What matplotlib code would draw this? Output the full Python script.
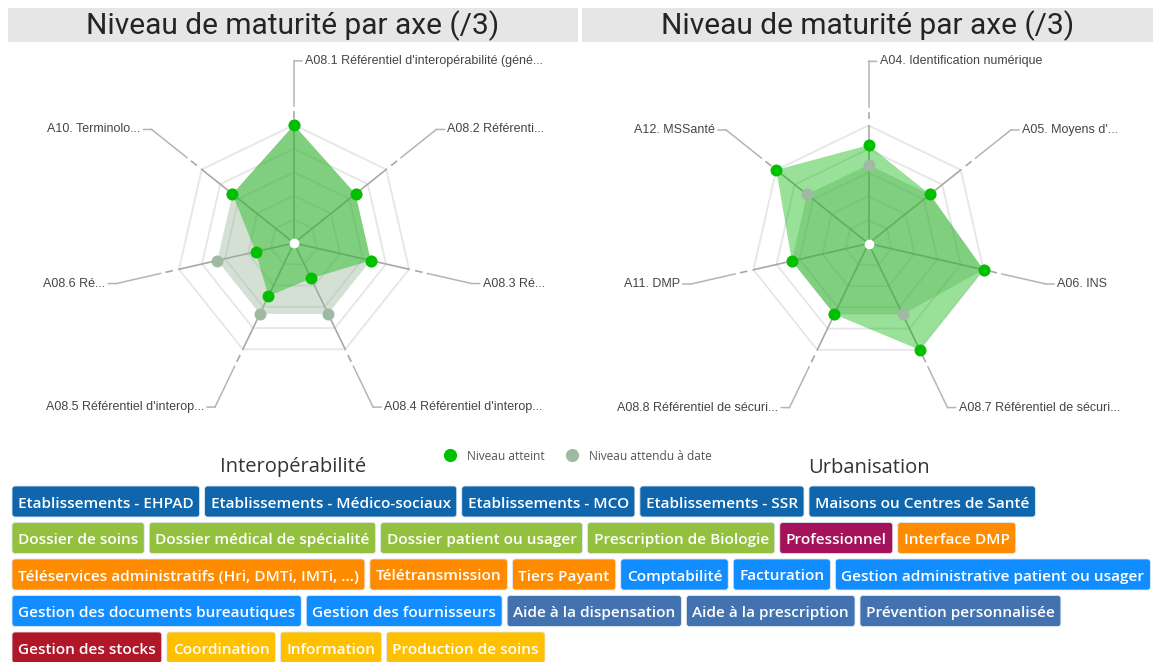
import numpy as np
import matplotlib
matplotlib.use("Agg")
import matplotlib.pyplot as plt
from matplotlib.patches import Rectangle, FancyBboxPatch
from matplotlib.lines import Line2D

W, H, DPI = 1153, 662, 100

# ---- data -------------------------------------------------------------
chart_title = "Niveau de maturité par axe (/3)"
max_level = 3
grid_levels = [0.6, 1.2, 1.8, 2.4, 3.0]

interop_axes = [
    "A08.1 Référentiel d'interopérabilité (géné...",
    "A08.2 Référenti...",
    "A08.3 Ré...",
    "A08.4 Référentiel d'interop...",
    "A08.5 Référentiel d'interop...",
    "A08.6 Ré...",
    "A10. Terminolo...",
]
interop_atteint = [3, 2, 2, 1, 1.5, 1, 2]
interop_attendu = [3, 2, 2, 2, 2, 2, 2]

urba_axes = [
    "A04. Identification numérique",
    "A05. Moyens d'...",
    "A06. INS",
    "A08.7 Référentiel de sécuri...",
    "A08.8 Référentiel de sécuri...",
    "A11. DMP",
    "A12. MSSanté",
]
urba_atteint = [2.5, 2, 3, 3, 2, 2, 3]
urba_attendu = [2, 2, 3, 2, 2, 2, 2]

legend_labels = ["Niveau atteint", "Niveau attendu à date"]
section_titles = ["Interopérabilité", "Urbanisation"]

tag_rows = [
    ["Etablissements - EHPAD", "Etablissements - Médico-sociaux",
     "Etablissements - MCO", "Etablissements - SSR", "Maisons ou Centres de Santé"],
    ["Dossier de soins", "Dossier médical de spécialité", "Dossier patient ou usager",
     "Prescription de Biologie", "Professionnel", "Interface DMP"],
    ["Téléservices administratifs (Hri, DMTi, IMTi, ...)", "Télétransmission",
     "Tiers Payant", "Comptabilité", "Facturation",
     "Gestion administrative patient ou usager"],
    ["Gestion des documents bureautiques", "Gestion des fournisseurs",
     "Aide à la dispensation", "Aide à la prescription", "Prévention personnalisée"],
    ["Gestion des stocks", "Coordination", "Information", "Production de soins"],
]
tag_groups = [
    ["etab", "etab", "etab", "etab", "etab"],
    ["dossier", "dossier", "dossier", "dossier", "prof", "teleserv"],
    ["teleserv", "teleserv", "teleserv", "gestion", "gestion", "gestion"],
    ["gestion", "gestion", "aide", "aide", "aide"],
    ["stock", "soins", "soins", "soins"],
]
group_colors = {
    "etab": "#0f66ad", "dossier": "#93c13f", "prof": "#a3125a",
    "teleserv": "#ff8c00", "gestion": "#118dff", "aide": "#4372b0",
    "stock": "#b0182a", "soins": "#ffc000",
}

# ---- style --------------------------------------------------------------
c_atteint_dot = "#00c000"
c_atteint_fill = "#00b600"
c_attendu_dot = "#a0b9a2"
c_attendu_fill = "#96b298"
c_ring = "#e6e6e6"
c_axis = "#a8a8a8"
label_font = "Liberation Sans"
ui_font = "Open Sans"

fig = plt.figure(figsize=(W / DPI, H / DPI), dpi=DPI)
fig.patch.set_facecolor("white")

# pixel-space overlay for headers, captions and tags
ov = fig.add_axes([0, 0, 1, 1], zorder=0)
ov.set_xlim(0, W)
ov.set_ylim(H, 0)
ov.set_axis_off()

for x0, x1, cx in [(8, 578, 293), (582, 1153, 868)]:
    ov.add_patch(Rectangle((x0, 8), x1 - x0, 34, color="#e6e6e6", lw=0))
    ov.text(cx, 26, chart_title, ha="center", va="center", fontsize=21.5,
            family="Roboto", color="#252423")


def radar(cx, cy, labels, atteint, attendu):
    rpx = 118
    ax = fig.add_axes([(cx - rpx) / W, 1 - (cy + rpx) / H, 2 * rpx / W, 2 * rpx / H],
                      projection="polar", zorder=2)
    ax.set_theta_zero_location("N")
    ax.set_theta_direction(-1)
    ax.set_ylim(0, max_level)
    ax.set_axis_off()
    n = len(labels)
    theta = np.arange(n) * 2 * np.pi / n
    closed = np.append(theta, theta[0])

    for lvl in grid_levels:
        ax.plot(closed, [lvl] * (n + 1), color=c_ring, lw=1.3, zorder=1, clip_on=False)
    for t in theta:
        ax.plot([t, t], [0, max_level], color=c_axis, lw=1.2, zorder=1.5, clip_on=False)
        ax.plot([t, t], [3.18, 3.33], color=c_axis, lw=1.2, zorder=1.5, clip_on=False)
        ax.plot([t, t], [3.48, 4.63], color="#b4b4b4", lw=1.1, zorder=1.5, clip_on=False)

    ax.fill(closed, np.append(attendu, attendu[0]), color=c_attendu_fill,
            alpha=0.4, lw=0, zorder=2)
    ax.fill(closed, np.append(atteint, atteint[0]), color=c_atteint_fill,
            alpha=0.4, lw=0, zorder=3)
    ax.plot(theta, attendu, "o", ms=8.6, color=c_attendu_dot, mew=0, zorder=4, clip_on=False)
    ax.plot(theta, atteint, "o", ms=8.6, color=c_atteint_dot, mew=0, zorder=5, clip_on=False)
    ax.plot([0], [0], "o", ms=7, color="white", mew=0, zorder=6)

    for i, (t, lab) in enumerate(zip(theta, labels)):
        right = i < n / 2
        ax.annotate(lab, xy=(t, 4.63), xytext=(11 if right else -11, 0),
                    textcoords="offset pixels", ha="left" if right else "right",
                    va="center", fontsize=9, family=label_font, color="#454545",
                    annotation_clip=False, zorder=7,
                    arrowprops=dict(arrowstyle="-", color="#b4b4b4", lw=1.1,
                                    shrinkA=0, shrinkB=0))
    return ax


radar(294, 243, interop_axes, interop_atteint, interop_attendu)
radar(868.5, 243.5, urba_axes, urba_atteint, urba_attendu)

# legend
handles = [Line2D([], [], ls="", marker="o", ms=9.5, mew=0, color=c_atteint_dot),
           Line2D([], [], ls="", marker="o", ms=9.5, mew=0, color=c_attendu_dot)]
fig.legend(handles, legend_labels, loc="center", bbox_to_anchor=(575 / W, 1 - 456 / H),
           ncol=2, frameon=False, handletextpad=0.45, columnspacing=1.25,
           prop={"family": ui_font, "size": 8.6}, labelcolor="#555555")

ov.text(293, 467, section_titles[0], ha="center", va="center", fontsize=14.5,
        family=ui_font, color="#333333")
ov.text(869, 468, section_titles[1], ha="center", va="center", fontsize=14.5,
        family=ui_font, color="#333333")

# tag chips, laid out left to right per row
renderer = fig.canvas.get_renderer()
row_top, row_pitch, chip_h, pad, gap = 486, 36.5, 31, 6, 5
for r, (row, groups) in enumerate(zip(tag_rows, tag_groups)):
    x = 12
    y = row_top + r * row_pitch
    for name, g in zip(row, groups):
        t = ov.text(0, 0, name, fontsize=11.05, family=ui_font, weight="semibold",
                    color="white", ha="center", va="center_baseline", zorder=3)
        tw = t.get_window_extent(renderer).width
        w = tw + 2 * pad
        ov.add_patch(FancyBboxPatch((x, y), w, chip_h,
                                    boxstyle="round,pad=0,rounding_size=3",
                                    fc=group_colors[g], ec="#dfe8f2", lw=0.6, zorder=2))
        t.set_position((x + w / 2, y + chip_h / 2 + 0.5))
        x += w + gap

fig.savefig("out.png", dpi=DPI)
